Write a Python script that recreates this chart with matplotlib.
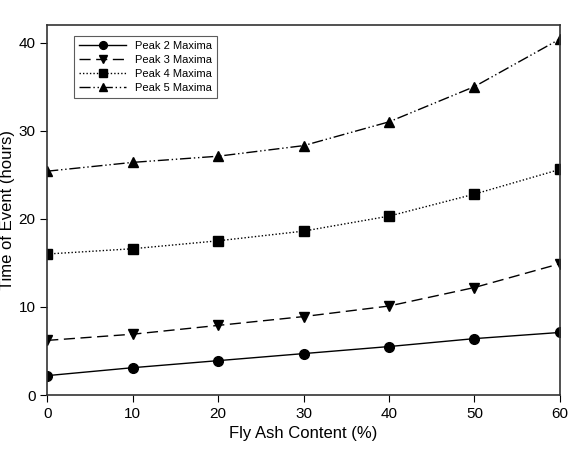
import matplotlib
matplotlib.use("Agg")
import matplotlib.pyplot as plt

plt.rcParams['font.family'] = ['Liberation Sans', 'DejaVu Sans']

# fly ash content (%) and time of event (hours)
fly_ash = [0, 10, 20, 30, 40, 50, 60]
peak2 = [2.2, 3.1, 3.9, 4.7, 5.5, 6.4, 7.1]
peak3 = [6.2, 6.9, 7.9, 8.9, 10.1, 12.2, 14.9]
peak4 = [16.0, 16.6, 17.5, 18.6, 20.3, 22.8, 25.6]
peak5 = [25.4, 26.4, 27.1, 28.3, 31.0, 35.0, 40.4]

fig = plt.figure(figsize=(5.69, 4.53), dpi=100)
ax = fig.add_axes([0.083, 0.128, 0.901, 0.817])

ax.plot(fly_ash, peak2, color='black', lw=1, ls='-', marker='o', ms=7, label='Peak 2 Maxima')
ax.plot(fly_ash, peak3, color='black', lw=1, ls=(0, (8, 4)), marker='v', ms=7, label='Peak 3 Maxima')
ax.plot(fly_ash, peak4, color='black', lw=1, ls=(0, (1, 1.5)), marker='s', ms=6.5, label='Peak 4 Maxima')
ax.plot(fly_ash, peak5, color='black', lw=1, ls=(0, (8, 2, 1, 2, 1, 2)), marker='^', ms=7, label='Peak 5 Maxima')

ax.set_xlim(0, 60)
ax.set_ylim(0, 42)
ax.set_xticks([0, 10, 20, 30, 40, 50, 60])
ax.set_yticks([0, 10, 20, 30, 40])
ax.tick_params(direction='out', length=5, labelsize=11, top=False, right=False)
for s in ax.spines.values():
    s.set_linewidth(1.2)
    s.set_color('#333333')

ax.set_xlabel('Fly Ash Content (%)', fontsize=12)
ax.set_ylabel('Time of Event (hours)', fontsize=12)
ax.yaxis.set_label_coords(-0.062, 0.5)

leg = ax.legend(loc='upper left', bbox_to_anchor=(0.042, 0.985), fontsize=8,
                frameon=True, fancybox=False, edgecolor='#333333',
                handlelength=4.2, borderpad=0.45, labelspacing=0.35,
                markerscale=0.8)
leg.get_frame().set_linewidth(0.8)

fig.savefig('out.png', dpi=100)
